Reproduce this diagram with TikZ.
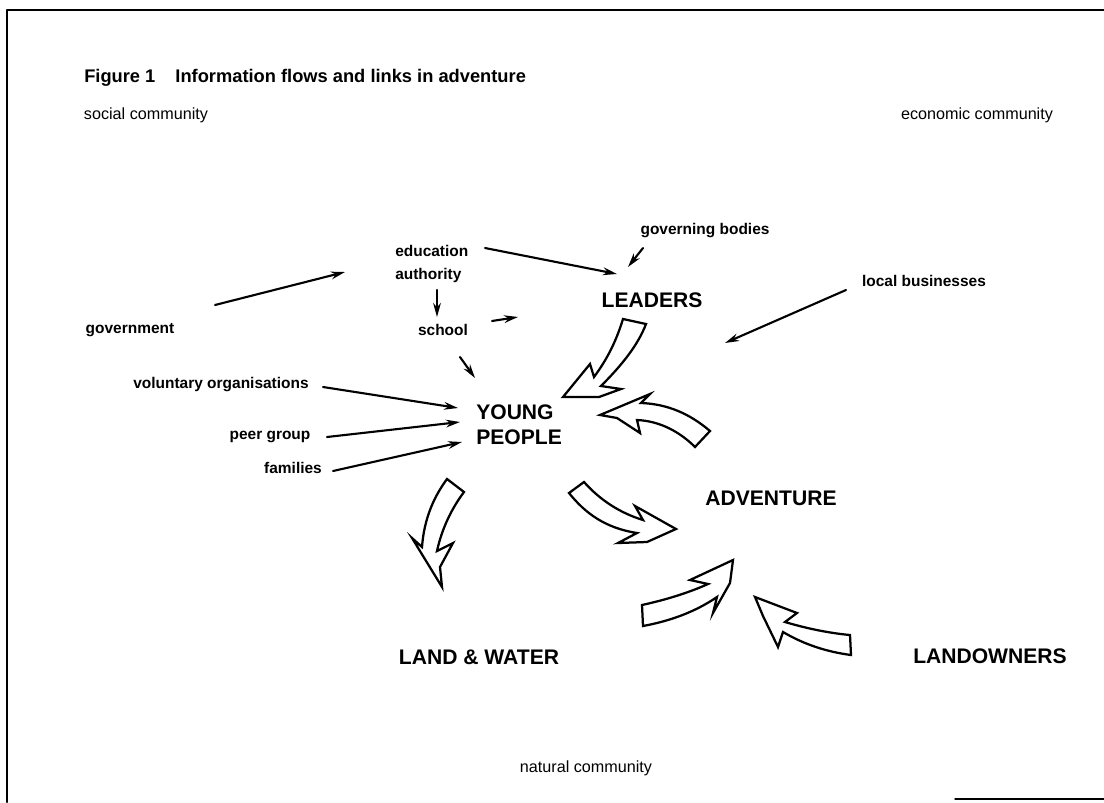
\documentclass[tikz,border=0pt]{standalone}
\usepackage{fontspec}
\setmainfont{Liberation Sans}
\usetikzlibrary{arrows.meta}
\begin{document}
\begin{tikzpicture}[x=0.025cm,y=-0.025cm,>={Stealth[length=10pt,width=5.5pt]},line join=round,line cap=round,
	small/.style={font=\fontsize{11}{16}\selectfont\bfseries,inner sep=0pt},
	big/.style={font=\fontsize{15}{18}\selectfont\bfseries,inner sep=0pt},
	comm/.style={font=\fontsize{11.5}{14}\selectfont,inner sep=0pt},
	flow/.style={->,line width=1.5pt},
	band/.style={draw,fill=white,line width=1.6pt,line join=miter}]
	\useasboundingbox (0,0) rectangle (1104,802);
	% frame
	\draw[line width=1.5pt] (7,802) -- (7,10) -- (1104,10);
	\draw[line width=1pt] (955,799) -- (1104,799);
	% labels
	\node[font=\fontsize{13}{15}\selectfont\bfseries,inner sep=0pt,anchor=base west] (title) at (84,82) {Figure 1\hspace{1.1em}Information flows and links in adventure};
	\node[comm] (soc) at (146,115) {social community};
	\node[comm] (eco) at (977,115) {economic community};
	\node[comm] (nat) at (586,768) {natural community};
	\node[small] (gov) at (130,330) {government};
	\node[small,align=left,anchor=west] (edu) at (395,264) {education\\authority};
	\node[small] (sch) at (443,330) {school};
	\node[small] (gb) at (705,231) {governing bodies};
	\node[small] (lb) at (924,281) {local businesses};
	\node[small] (vol) at (221,385) {voluntary organisations};
	\node[small] (peer) at (270,437) {peer group};
	\node[small] (fam) at (293,468) {families};
	\node[big] (lead) at (652,300) {LEADERS};
	\node[big,align=left,anchor=west] (yp) at (476,425) {YOUNG\\PEOPLE};
	\node[big] (adv) at (771,498) {ADVENTURE};
	\node[big] (lw) at (479,657) {LAND \& WATER};
	\node[big] (lo) at (990,656) {LANDOWNERS};
	% ends of the thin arrows
	\path
	(215,305) coordinate (gov1) (345,272) coordinate (gov2)
	(485,248) coordinate (edu1) (617,274) coordinate (edu2)
	(643,248) coordinate (gb1) (628,267) coordinate (gb2)
	(437,290) coordinate (auth1) (437,317) coordinate (auth2)
	(492,321) coordinate (sch1) (518,317) coordinate (sch2)
	(460,357) coordinate (sch3) (475,378) coordinate (sch4)
	(846,290) coordinate (lb1) (725,343) coordinate (lb2)
	(323,387) coordinate (vol1) (458,408) coordinate (vol2)
	(327,437) coordinate (peer1) (460,422) coordinate (peer2)
	(333,471) coordinate (fam1) (462,442) coordinate (fam2)
	;
	\foreach \a/\b in {gov1/gov2,edu1/edu2,gb1/gb2,auth1/auth2,sch1/sch2,sch3/sch4,lb1/lb2,vol1/vol2,peer1/peer2,fam1/fam2}
		\draw[flow] (\a) -- (\b);
	% broad arrows
	\draw[band] (623,319) .. controls (615,345) and (605,362) .. (594,377) -- (590,364) -- (563,397) -- (599,397) -- (621,389) -- (601,386) .. controls (622,365) and (638,345) .. (646,324) -- cycle;
	\draw[band] (710,431) .. controls (690,414) and (668,404) .. (641,403) -- (650,394) -- (600,415) -- (617,418) -- (640,433) -- (637,420) .. controls (660,421) and (680,432) .. (695,447) -- cycle;
	\draw[band] (447,479) .. controls (433,498) and (424,520) .. (422,547) -- (412,538) -- (442,587) -- (440,567) -- (453,543) -- (437,551) .. controls (442,528) and (452,508) .. (464,492) -- cycle;
	\draw[band] (584,482) .. controls (600,500) and (620,513) .. (643,520) -- (635,506) -- (676,529) -- (647,542) -- (618,543) -- (637,533) .. controls (605,528) and (585,513) .. (569,493) -- cycle;
	\draw[band] (642,605) .. controls (665,600) and (688,593) .. (708,584) -- (690,580) -- (733,560) -- (730,583) -- (713,613) -- (717,597) .. controls (695,612) and (670,621) .. (643,626) -- cycle;
	\draw[band] (850,635) .. controls (828,633) and (805,628) .. (785,622) -- (797,613) -- (755,597) -- (763,616) -- (778,647) -- (783,632) .. controls (805,645) and (828,652) .. (851,655) -- cycle;
\end{tikzpicture}
\end{document}
